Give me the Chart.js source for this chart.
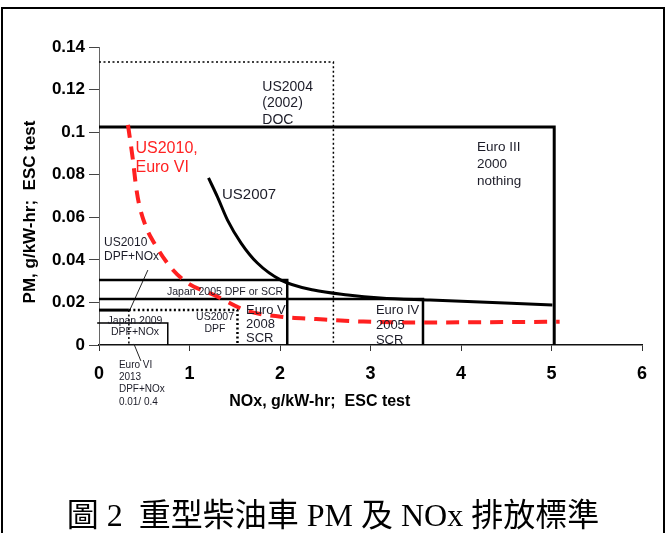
<!DOCTYPE html>
<html>
<head>
<meta charset="utf-8">
<script src="https://cdn.jsdelivr.net/npm/chart.js@4.4.1/dist/chart.umd.min.js"></script>
<style>
  html, body { margin: 0; padding: 0; background: #fff; }
  #page { position: relative; width: 666px; height: 533px; overflow: hidden; }
  #frame { position: absolute; left: 1px; top: 7px; width: 660px; height: 560px; border: 2px solid #000; }
  #chart { position: absolute; left: 0; top: 0; }
  #caption { position: absolute; left: 0; top: 495px; width: 666px; line-height: 40px; text-align: center;
    font-size: 32px; font-family: "Liberation Serif", "Noto Sans CJK TC", serif; color: #000; white-space: pre; }
</style>
</head>
<body>
<div id="page">
  <div id="frame"></div>
  <canvas id="chart" width="666" height="533"></canvas>
  <div id="caption">圖 2  重型柴油車 PM 及 NOx 排放標準</div>
</div>
<script>
// tick labels
const xTickLabels = ["0", "1", "2", "3", "4", "5", "6"];
const yTickLabels = ["0", "0.02", "0.04", "0.06", "0.08", "0.1", "0.12", "0.14"];

// standard boxes (NOx g/kW-hr, PM g/kW-hr)
const us2004Nox = [0, 2.59, 2.59];
const us2004Pm = [0.1329, 0.1329, 0];
const euro3Nox = [0, 5.03, 5.03];
const euro3Pm = [0.1024, 0.1024, 0];
const euro4Nox = [0, 3.58, 3.58];
const euro4Pm = [0.0216, 0.0216, 0];
const euro5Nox = [0, 2.08, 2.08];
const euro5Pm = [0.0305, 0.0305, 0];
const japan2009Nox = [-0.02, 0.76, 0.76];
const japan2009Pm = [0.0103, 0.0103, 0];
const us2007DpfNox = [0.33, 1.53, 1.53];
const us2007DpfPm = [0.0164, 0.0164, 0];
const us2010Nox = [0, 0.33];
const us2010Pm = [0.0164, 0.0164];
const euro6Nox = [0.33, 0.33];
const euro6Pm = [0.0164, 0];

// curves
const us2007CurveNox = [1.21, 1.31, 1.42, 1.57, 1.75, 2.01, 2.37, 2.75, 3.11, 3.66, 5.01];
const us2007CurvePm = [0.0785, 0.0695, 0.0587, 0.0479, 0.0385, 0.0305, 0.0258, 0.0235, 0.0221, 0.0211, 0.0188];
const us2010CurveNox = [0.32, 0.375, 0.41, 0.44, 0.52, 0.61, 0.79, 0.98, 1.27, 1.64, 2.01, 2.4, 2.92, 3.47, 5.09];
const us2010CurvePm = [0.1034, 0.0869, 0.0742, 0.0667, 0.0554, 0.0479, 0.0366, 0.0291, 0.0235, 0.016, 0.0133, 0.0122, 0.011, 0.0106, 0.0109];

// leader lines for the small labels
const us2010LeaderNox = [0.54, 0.34];
const us2010LeaderPm = [0.0352, 0.0164];
const euro6LeaderNox = [0.386, 0.463];
const euro6LeaderPm = [0.0005, -0.0075];

const FONT = '"Liberation Sans", Arial, sans-serif';
const INK = "#1c1c28";

// text labels, placed in data coordinates
const notes = [
  { nox: 1.805, pm: 0.1212, lines: ["US2004", "(2002)", "DOC"], size: 14, lh: 16.5 },
  { nox: 0.403, pm: 0.0925, lines: ["US2010,", "Euro VI"], size: 16, lh: 19, color: "#ff2222" },
  { nox: 1.359, pm: 0.0705, lines: ["US2007"], size: 15, lh: 17 },
  { nox: 4.177, pm: 0.093, lines: ["Euro III", "2000", "nothing"], size: 13.5, lh: 17 },
  { nox: 0.055, pm: 0.0479, lines: ["US2010", "DPF+NOx"], size: 12, lh: 14 },
  { nox: 0.751, pm: 0.0249, lines: ["Japan 2005 DPF or SCR"], size: 10.5, lh: 12 },
  { nox: 0.398, pm: 0.0113, lines: ["Japan 2009", "DPF+NOx"], size: 10.5, lh: 11.5, align: "center" },
  { nox: 1.282, pm: 0.0132, lines: ["US2007", "DPF"], size: 10.5, lh: 12.5, align: "center" },
  { nox: 1.624, pm: 0.0164, lines: ["Euro V", "2008", "SCR"], size: 13, lh: 14 },
  { nox: 3.06, pm: 0.0164, lines: ["Euro IV", "2005", "SCR"], size: 13, lh: 15 },
  { nox: 0.22, pm: -0.0094, lines: ["Euro VI", "2013", "DPF+NOx", "0.01/ 0.4"], size: 10, lh: 12.3 },
];

function series(label, nox, pm, style) {
  return {
    label: label,
    data: nox.map((x, i) => ({ x: x, y: pm[i] })),
    showLine: true,
    pointRadius: 0,
    fill: false,
    tension: 0,
    borderColor: "#000",
    borderWidth: 2,
    ...style,
  };
}

const notesPlugin = {
  id: "notes",
  afterDatasetsDraw(chart) {
    const ctx = chart.ctx;
    const xs = chart.scales.x;
    const ys = chart.scales.y;
    ctx.save();
    ctx.textBaseline = "middle";
    notes.forEach((n) => {
      ctx.font = `${n.size}px ${FONT}`;
      ctx.fillStyle = n.color || INK;
      ctx.textAlign = n.align || "left";
      const x = xs.getPixelForValue(n.nox);
      const y = ys.getPixelForValue(n.pm);
      n.lines.forEach((line, i) => ctx.fillText(line, x, y + i * n.lh));
    });

    // axis titles
    ctx.fillStyle = "#000";
    ctx.textAlign = "center";
    ctx.font = `bold 16px ${FONT}`;
    ctx.fillText("NOx, g/kW-hr;  ESC test", xs.getPixelForValue(2.44), ys.getPixelForValue(-0.0268));
    ctx.translate(xs.getPixelForValue(-0.762), ys.getPixelForValue(0.0625));
    ctx.rotate(-Math.PI / 2);
    ctx.font = `bold 17px ${FONT}`;
    ctx.fillText("PM, g/kW-hr;  ESC test", 0, 0);
    ctx.restore();
  },
};

const dotted = [2, 2.5];

new Chart(document.getElementById("chart").getContext("2d"), {
  type: "scatter",
  data: {
    datasets: [
      series("US2010, Euro VI", us2010CurveNox, us2010CurvePm, {
        borderColor: "#ff2020", borderWidth: 4, borderDash: [13, 9], cubicInterpolationMode: "monotone",
      }),
      series("US2007", us2007CurveNox, us2007CurvePm, { borderWidth: 3, cubicInterpolationMode: "monotone" }),
      series("US2004", us2004Nox, us2004Pm, { borderWidth: 1.5, borderDash: dotted }),
      series("Euro III", euro3Nox, euro3Pm, { borderWidth: 3 }),
      series("Euro IV", euro4Nox, euro4Pm, { borderWidth: 2.5 }),
      series("Euro V", euro5Nox, euro5Pm, { borderWidth: 2.5 }),
      series("Japan 2009", japan2009Nox, japan2009Pm, { borderWidth: 1.5, clip: false }),
      series("US2007 DPF", us2007DpfNox, us2007DpfPm, { borderWidth: 2.5, borderDash: dotted }),
      series("US2010 DPF+NOx", us2010Nox, us2010Pm, { borderWidth: 3 }),
      series("Euro VI", euro6Nox, euro6Pm, { borderWidth: 1.5, borderDash: dotted }),
      series("US2010 leader", us2010LeaderNox, us2010LeaderPm, { borderWidth: 1, borderColor: "#222" }),
      series("Euro VI leader", euro6LeaderNox, euro6LeaderPm, { borderWidth: 1, borderColor: "#222", clip: false }),
    ],
  },
  options: {
    responsive: false,
    animation: false,
    layout: { padding: { left: 0, right: 24, top: 47, bottom: 118 } },
    plugins: {
      legend: { display: false },
      tooltip: { enabled: false },
    },
    scales: {
      x: {
        type: "linear",
        min: 0,
        max: 6,
        afterFit: (scale) => { scale.height = 70; },
        ticks: {
          stepSize: 1,
          padding: 12,
          color: "#000",
          font: { family: FONT, size: 18, weight: "bold" },
          callback: (value, index) => xTickLabels[index] ?? "",
        },
        grid: { drawOnChartArea: false, tickLength: 6, color: "#333" },
        border: { color: "#111", width: 1.5 },
      },
      y: {
        min: 0,
        max: 0.14,
        afterFit: (scale) => { scale.width = 99; },
        ticks: {
          stepSize: 0.02,
          padding: 4,
          color: "#000",
          font: { family: FONT, size: 17, weight: "bold" },
          callback: (value, index) => yTickLabels[index] ?? "",
        },
        grid: { drawOnChartArea: false, tickLength: 10, color: "#444" },
        border: { color: "#666", width: 1 },
      },
    },
  },
  plugins: [notesPlugin],
});
</script>
</body>
</html>
